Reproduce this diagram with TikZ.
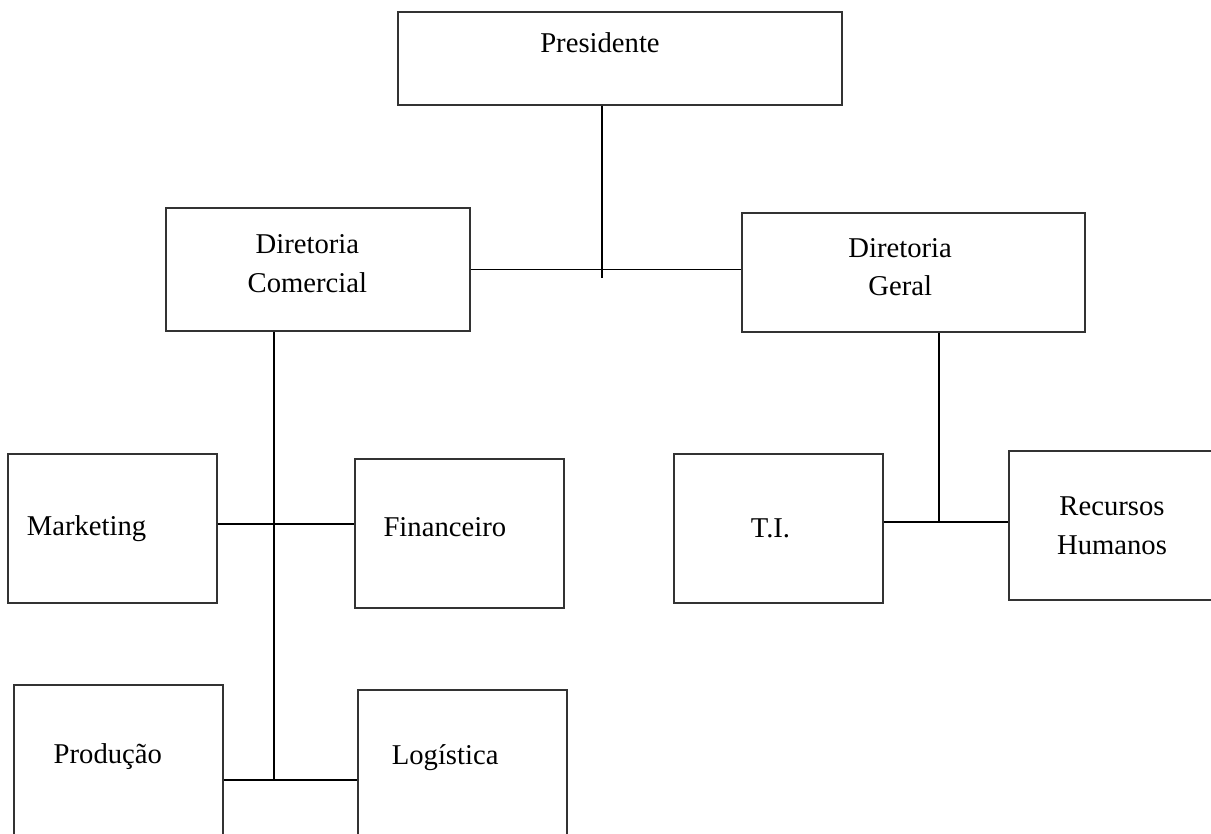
\documentclass[tikz,border=0pt]{standalone}
\usepackage{fontspec}
\setmainfont{Liberation Serif}
\tikzstyle{box} = [rectangle, draw=black!80, line width=1pt, inner sep=0pt]
\tikzstyle{txt} = [align=center, inner sep=0pt, font=\fontsize{21.5}{29}\selectfont]
\tikzstyle{line} = [draw, line width=1pt]

\begin{document}
\begin{tikzpicture}[x=0.75pt, y=-0.75pt]
				\useasboundingbox (0,0) rectangle (1211,834);
				\node [box, minimum width=333pt, minimum height=69.75pt, label={[txt, xshift=-15pt, yshift=12pt]center:Presidente}] (pres) at (620,58.5) {};
				\node [box, minimum width=228pt, minimum height=92.25pt, label={[txt, xshift=-8pt, yshift=4.5pt]center:Diretoria\\Comercial}] (dircom) at (318,269.5) {};
				\node [box, minimum width=257.25pt, minimum height=89.25pt, label={[txt, xshift=-10pt, yshift=4pt]center:Diretoria\\Geral}] (dirger) at (913.5,272.5) {};
				\node [box, minimum width=156.75pt, minimum height=111.75pt, label={[txt, xshift=-19.5pt]center:Marketing}] (mkt) at (112.5,528.5) {};
				\node [box, minimum width=156.75pt, minimum height=111.75pt, label={[txt, xshift=-11pt, yshift=4.5pt]center:Financeiro}] (fin) at (459.5,533.5) {};
				\node [box, minimum width=156.75pt, minimum height=111.75pt, label={[txt, xshift=-6pt]center:T.I.}] (ti) at (778.5,528.5) {};
				\node [box, minimum width=154.5pt, minimum height=111.75pt, label={[txt]center:Recursos\\Humanos}] (rh) at (1112,525.5) {};
				\node [box, minimum width=156.75pt, minimum height=120pt, label={[txt, xshift=-8pt, yshift=6.2pt]center:Produção}] (prod) at (118.5,765) {};
				\node [box, minimum width=156.75pt, minimum height=116.25pt, label={[txt, xshift=-13pt, yshift=7.7pt]center:Logística}] (log) at (462.5,767.5) {};

				\coordinate (jtop) at (602,278);
				\coordinate (jesq) at (274,524);
				\coordinate (jesqb) at (274,780);
				\coordinate (jdir) at (939,522);

				\path [line] (pres.south -| jtop) -- (jtop);
				\path [line] (dircom.east) -- (dircom.east -| dirger.west);
				\path [line] (dircom.south -| jesq) -- (jesqb);
				\path [line] (mkt.east |- jesq) -- (fin.west |- jesq);
				\path [line] (prod.east |- jesqb) -- (log.west |- jesqb);
				\path [line] (dirger.south -| jdir) -- (jdir);
				\path [line] (ti.east |- jdir) -- (rh.west |- jdir);
\end{tikzpicture}
\end{document}
